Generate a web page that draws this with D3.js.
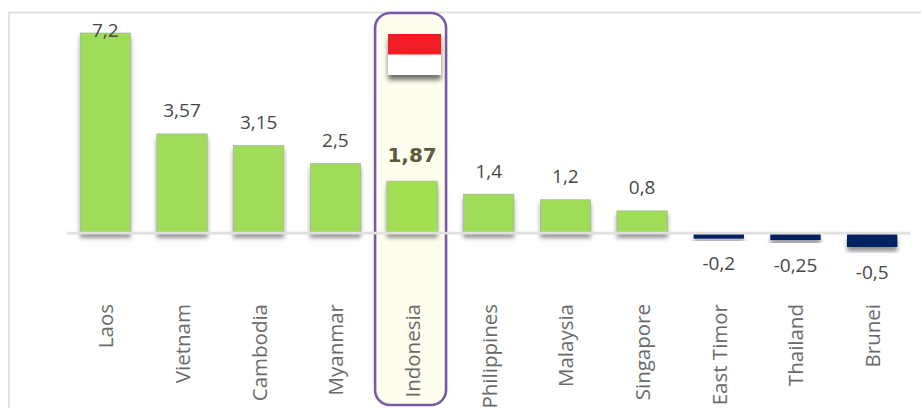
<!DOCTYPE html>
<html><head><meta charset="utf-8">
<script src="https://cdn.jsdelivr.net/npm/d3@7/dist/d3.min.js"></script>
<style>html,body{margin:0;padding:0;background:#fff}svg{display:block}</style></head>
<body><svg id="c" width="921" height="408"></svg>
<script>
const categories=["Laos","Vietnam","Cambodia","Myanmar","Indonesia","Philippines","Malaysia","Singapore","East Timor","Thailand","Brunei"];
const values=[7.2,3.57,3.15,2.5,1.87,1.4,1.2,0.8,-0.2,-0.25,-0.5];
const valueLabels=["7,2","3,57","3,15","2,5","1,87","1,4","1,2","0,8","-0,2","-0,25","-0,5"];
const highlighted="Indonesia";

const W=921,H=408;
const svg=d3.select("#c");
const defs=svg.append("defs");
const blur=(id,sd,dy,op)=>{
  const f=defs.append("filter").attr("id",id).attr("x","-20%").attr("y","-20%").attr("width","140%").attr("height","160%");
  f.append("feDropShadow").attr("dx",0).attr("dy",dy).attr("stdDeviation",sd).attr("flood-color","#000").attr("flood-opacity",op);
};
blur("sh",2,4.5,0.42);
blur("shFlag",2.4,5,0.55);

const x=d3.scaleBand().domain(categories).range([67,910.5]).paddingInner(0.33).paddingOuter(0.165);
const y=d3.scaleLinear().domain([-0.5,7.2]).range([247,33]);
const y0=y(0);

// frame
svg.append("path").attr("d",`M9,${H}V12.5H${W}`).attr("fill","none").attr("stroke","#e2e2e2").attr("stroke-width",2);

// highlight panel
const cx=c=>x(c)+x.bandwidth()/2;
svg.append("rect").attr("x",cx(highlighted)-37).attr("y",13).attr("width",71).attr("height",392).attr("rx",15)
  .attr("fill","#fffeee").attr("stroke","#7a5aa6").attr("stroke-width",2.6);

// flag
const flag=svg.append("g");
flag.append("rect").attr("x",388).attr("y",34).attr("width",53).attr("height",41).attr("fill","#fff").attr("filter","url(#shFlag)");
flag.append("rect").attr("x",388).attr("y",34).attr("width",53).attr("height",20.5).attr("fill","#f21c24");

// bars
svg.append("g").selectAll("rect").data(categories).join("rect")
  .attr("x",c=>x(c)+0.5)
  .attr("width",x.bandwidth()-1)
  .attr("y",(c,i)=>values[i]>=0?y(values[i]):y0+1)
  .attr("height",(c,i)=>values[i]>=0?y0-y(values[i]):y(values[i])-y0-1)
  .attr("fill",(c,i)=>values[i]>=0?(c===highlighted?"#a2df52":"#9fdd58"):"#002060")
  .attr("stroke",(c,i)=>values[i]>=0?"#a6a6a6":"none").attr("stroke-width",0.6)
  .attr("filter","url(#sh)");

// baseline
svg.append("line").attr("x1",67).attr("x2",910).attr("y1",y0).attr("y2",y0).attr("stroke","#e0e0e0").attr("stroke-width",2.6);

// value labels
svg.append("g").selectAll("text").data(categories).join("text")
  .attr("x",cx)
  .attr("y",(c,i)=>c===highlighted?y(values[i])-26:values[i]>=0?Math.max(y(values[i])-23.5,30):y(values[i])+24.5)
  .attr("dominant-baseline","central").attr("text-anchor","middle")
  .attr("font-family",c=>c===highlighted?"'DejaVu Sans',sans-serif":"'Open Sans',sans-serif")
  .attr("font-weight",c=>c===highlighted?700:400)
  .attr("font-size",c=>c===highlighted?20:19)
  .attr("fill",c=>c===highlighted?"#5b5b3c":"#484848")
  .text((c,i)=>valueLabels[i]);

// category labels
svg.append("g").selectAll("text").data(categories).join("text")
  .attr("transform",c=>`translate(${cx(c)},304) rotate(-90)`)
  .attr("text-anchor","end").attr("dominant-baseline","central")
  .attr("font-family","'Open Sans',sans-serif").attr("font-size",20.5)
  .attr("fill","#6a6a6a")
  .text(c=>c);
</script></body></html>
